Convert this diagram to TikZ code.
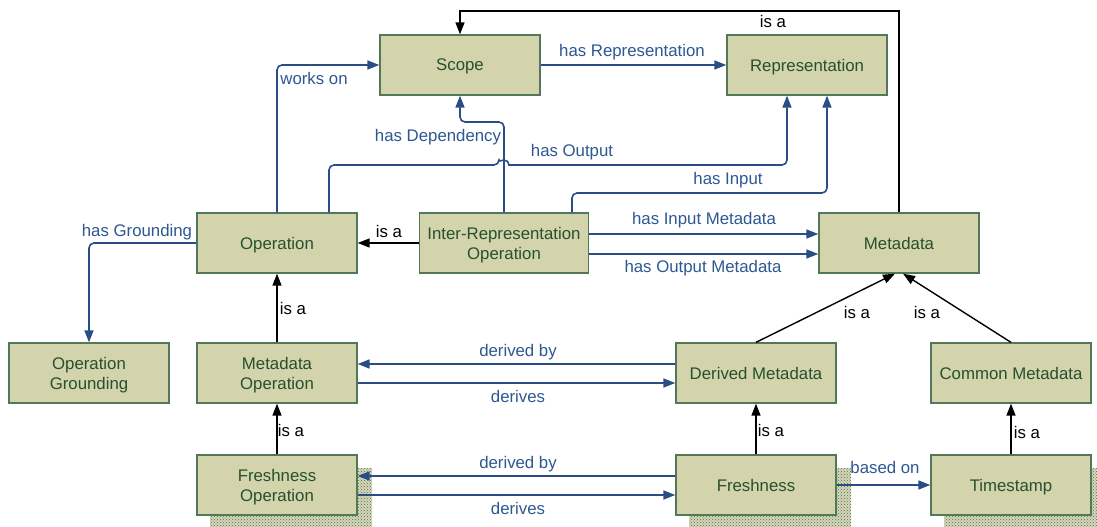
\documentclass[tikz,border=0pt]{standalone}
\usepackage{fontspec}
\setmainfont{Liberation Sans}
\usetikzlibrary{arrows.meta,patterns}

\definecolor{boxfill}{HTML}{D3D3AC}
\definecolor{boxline}{HTML}{52785A}
\definecolor{boxtext}{HTML}{26502E}
\definecolor{relblue}{HTML}{2B4D86}
\definecolor{reltext}{HTML}{2E5891}
\definecolor{shadowbg}{HTML}{D3D8BC}
\definecolor{shadowdot}{HTML}{5C6A3E}

\tikzset{
  concept/.style={draw=boxline, line width=1.3pt, fill=boxfill, text=boxtext,
    minimum width=160pt, minimum height=60pt, inner sep=0pt, align=center,
    text depth=0pt, font=\fontsize{16.8}{20}\selectfont},
  rel/.style={draw=relblue, line width=1.6pt, rounded corners=5pt,
    -{Triangle[length=12pt,width=9pt]}},
  isa/.style={draw=black, line width=1.4pt,
    -{Triangle[length=12pt,width=9pt]}},
  rellabel/.style={text=reltext, inner sep=0pt, font=\fontsize{16.8}{20}\selectfont},
  isalabel/.style={text=black, inner sep=0pt, font=\fontsize{16.8}{20}\selectfont},
}

\begin{document}
\begin{tikzpicture}[x=1pt,y=-1pt]
\clip (0,0) rectangle (1097,527);
\fill[white] (0,0) rectangle (1097,527);

% shadows behind the bottom row
\foreach \cx in {277,756,1011}{
  \fill[shadowbg] (\cx-67,468) rectangle (\cx+95,540);
  \fill[pattern=crosshatch dots, pattern color=shadowdot] (\cx-67,468) rectangle (\cx+95,540);
}

% concepts
\node[concept] (scope) at (460,65) {Scope};
\node[concept] (rep)   at (807,65) {Representation};
\node[concept] (op)    at (277,243) {Operation};
\node[concept, minimum width=169pt] (irop) at (504,243) {Inter-Representation\\Operation};
\node[concept] (meta)  at (899,243) {Metadata};
\node[concept] (ground) at (89,373) {Operation\\Grounding};
\node[concept] (mop)   at (277,373) {Metadata\\Operation};
\node[concept] (dmeta) at (756,373) {Derived Metadata};
\node[concept] (cmeta) at (1011,373) {Common Metadata};
\node[concept] (fop)   at (277,485) {Freshness\\Operation};
\node[concept] (fresh) at (756,485) {Freshness};
\node[concept] (tstamp) at (1011,485) {Timestamp};

% helper coordinates for routed connectors
\coordinate (topline) at (0,11);
\coordinate (inline)  at (0,193);
\coordinate (depline) at (0,122);
\coordinate (repout) at ([xshift=-20pt]rep.south);
\coordinate (repin)  at ([xshift=20pt]rep.south);
\coordinate (opout)  at ([xshift=52pt]op.north);
\coordinate (iropin) at ([xshift=68pt]irop.north);

% is-a relations
\draw[isa] (meta.north) -- (meta.north |- topline) -| (scope.north);
\draw[isa] (irop.west) -- (op.east);
\draw[isa] (mop.north) -- (op.south);
\draw[isa] (fop.north) -- (mop.south);
\draw[isa] (dmeta.north) -- ([xshift=-4pt]meta.south);
\draw[isa] (cmeta.north) -- ([xshift=4pt]meta.south);
\draw[isa] (fresh.north) -- (dmeta.south);
\draw[isa] (tstamp.north) -- (cmeta.south);

% object relations
\draw[rel] (op.north) |- (scope.west);
\draw[rel] (scope.east) -- (rep.west);
\draw[rel] (irop.north) |- (depline -| scope.south) -- (scope.south);
\draw[rel] (opout) |- (499,165) [sharp corners]
  arc[start angle=180, end angle=0, radius=5pt] [rounded corners=5pt]
  -| (repout);
\draw[rel] (iropin) |- (inline -| repin) -- (repin);
\draw[rel] ([yshift=9pt]irop.east) -- ([yshift=9pt]meta.west);
\draw[rel] ([yshift=-11pt]irop.east) -- ([yshift=-11pt]meta.west);
\draw[rel] (op.west) -| (ground.north);
\draw[rel] ([yshift=9pt]dmeta.west) -- ([yshift=9pt]mop.east);
\draw[rel] ([yshift=-10pt]mop.east) -- ([yshift=-10pt]dmeta.west);
\draw[rel] ([yshift=9pt]fresh.west) -- ([yshift=9pt]fop.east);
\draw[rel] ([yshift=-10pt]fop.east) -- ([yshift=-10pt]fresh.west);
\draw[rel] (fresh.east) -- (tstamp.west);

% labels
\node[isalabel] (l-top)   at (773,21)  {is a};
\node[rellabel] (l-works) at (314,78)  {works on};
\node[rellabel] (l-hasrep) at (632,52) {has Representation};
\node[rellabel] (l-dep)   at (438,137) {has Dependency};
\node[rellabel] (l-out)   at (572,152) {has Output};
\node[rellabel] (l-in)    at (728,180) {has Input};
\node[rellabel] (l-inmeta) at (704,220) {has Input Metadata};
\node[rellabel] (l-outmeta) at (703,268) {has Output Metadata};
\node[isalabel] (l-irop)  at (389,231) {is a};
\node[rellabel] (l-ground) at (137,232) {has Grounding};
\node[isalabel] (l-mop)   at (293,308) {is a};
\node[isalabel] (l-dm)    at (857,312) {is a};
\node[isalabel] (l-cm)    at (927,312) {is a};
\node[rellabel] (l-dby1)  at (518,352) {derived by};
\node[rellabel] (l-der1)  at (518,396) {derives};
\node[isalabel] (l-fop)   at (291,430) {is a};
\node[isalabel] (l-fr)    at (771,430) {is a};
\node[isalabel] (l-ts)    at (1027,432) {is a};
\node[rellabel] (l-dby2)  at (518,464) {derived by};
\node[rellabel] (l-der2)  at (518,508) {derives};
\node[rellabel] (l-based) at (885,467) {based on};
\end{tikzpicture}
\end{document}
